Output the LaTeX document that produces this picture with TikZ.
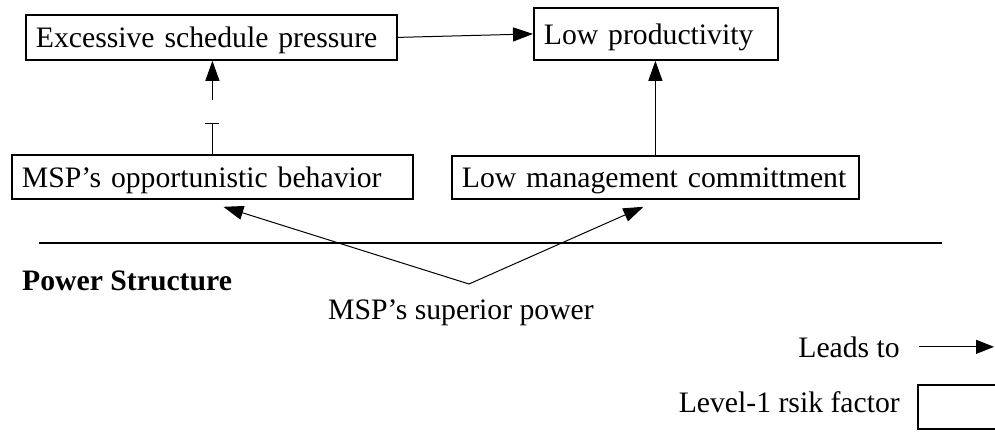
\documentclass[tikz,border=0pt]{standalone}
\usepackage{fontspec}
\setmainfont{Liberation Serif}
\usetikzlibrary{arrows.meta,calc}
\begin{document}
\begin{tikzpicture}[x=1pt,y=-1pt,
  every node/.style={font=\fontsize{29.7}{34}\selectfont, inner sep=0pt},
  factor/.style={draw, line width=1.8pt, anchor=north west, inner xsep=10pt,
    inner ysep=0pt, align=left, text height=32pt, text depth=11pt},
  link/.style={line width=1pt, -{Triangle[length=20pt,width=14pt]}},
  plain/.style={line width=1pt},
]
\useasboundingbox (0,0) rectangle (995,431);
\clip (0,0) rectangle (995,431);

% risk factors
\node[factor, text width=351pt, minimum height=45pt] (esp)  at (25,14)  {Excessive schedule pressure};
\node[factor, text width=224pt, minimum height=52pt] (lowp) at (533,7)  {Low productivity};
\node[factor, text width=381pt, minimum height=44pt] (opp)  at (11,154) {MSP’s opportunistic behavior};
\node[factor, text width=387pt, minimum height=43pt] (mgmt) at (451,155) {Low management committment};

% causal links between factors
\draw[link] (esp.east) -- (lowp.west);
\coordinate (gapLow)  at ($(opp.north)+(0,-31)$);
\coordinate (gapHigh) at ($(opp.north)+(0,-54)$);
\draw[plain, -{Bar[width=14pt]}] (opp.north) -- (gapLow);
\draw[link] (gapHigh) -- (opp.north |- esp.south);
\draw[link] (mgmt.north) -- (mgmt.north |- lowp.south);

% power structure layer
\coordinate (sepL) at (39,243);
\coordinate (sepR) at (942,243);
\draw[line width=2pt] (sepL) -- (sepR);
\node[anchor=base west, font=\fontsize{29.7}{34}\selectfont\bfseries] (ps) at (22,290) {Power Structure};
\node[anchor=base] (power) at (461,319) {MSP’s superior power};
\coordinate (apex) at (469,284);
\draw[link] (apex) -- ([xshift=11pt,yshift=-7pt]opp.south);
\draw[link] (apex) -- ([xshift=-12pt,yshift=-7pt]mgmt.south);

% legend
\node[anchor=base east] (leads) at (900,357) {Leads to};
\coordinate (legA) at ([xshift=19pt]leads.east);
\coordinate (legB) at (994,348);
\draw[line width=1pt, -{Triangle[length=18pt,width=14pt]}] (legA) -- (legA -| legB);
\node[draw, line width=1.8pt, anchor=north west, minimum width=85pt, minimum height=44pt] (key) at (917,384) {};
\node[anchor=base east] (keytext) at (900,412) {Level-1 rsik factor};
\end{tikzpicture}
\end{document}
